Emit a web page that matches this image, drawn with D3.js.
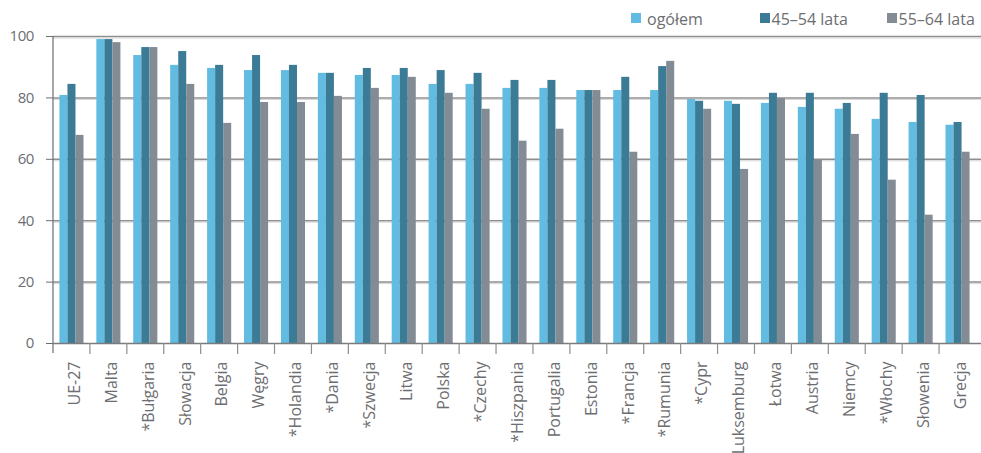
<!DOCTYPE html>
<html>
<head>
<meta charset="utf-8">
<script src="https://cdn.jsdelivr.net/npm/d3@7"></script>
<style>
  html, body { margin: 0; padding: 0; background: #fff; }
  svg { display: block; }
  text { font-family: "Open Sans", "Noto Sans", sans-serif; fill: #6d6e71; }
</style>
</head>
<body>
<svg id="chart" width="981" height="453"></svg>
<script>
// Countries, in the order shown on the axis
const categories = ["UE-27", "Malta", "*Bułgaria", "Słowacja", "Belgia", "Węgry", "*Holandia", "*Dania",
  "*Szwecja", "Litwa", "Polska", "*Czechy", "*Hiszpania", "Portugalia", "Estonia", "*Francja",
  "*Rumunia", "*Cypr", "Luksemburg", "Łotwa", "Austria", "Niemcy", "*Włochy", "Słowenia", "Grecja"];

const seriesNames = ["ogółem", "45–54 lata", "55–64 lata"];

const ogolem = [80.8, 99.0, 93.8, 90.6, 89.6, 88.9, 88.9, 88.0, 87.3, 87.3, 84.4, 84.4, 83.1,
  83.1, 82.4, 82.4, 82.4, 79.5, 78.9, 78.2, 76.9, 76.3, 73.0, 72.0, 71.1];
const lata4554 = [84.4, 99.0, 96.4, 95.1, 90.6, 93.8, 90.6, 88.0, 89.6, 89.6, 88.9, 88.0, 85.7,
  85.7, 82.4, 86.7, 90.2, 78.9, 77.9, 81.5, 81.5, 78.2, 81.5, 80.8, 72.0];
const lata5564 = [67.8, 98.0, 96.4, 84.4, 71.7, 78.5, 78.5, 80.5, 83.1, 86.7, 81.5, 76.3, 65.9,
  69.8, 82.4, 62.3, 91.9, 76.3, 56.7, 79.8, 59.7, 68.1, 53.2, 41.8, 62.3];

const yTicks = [0, 20, 40, 60, 80, 100];

const colors = ["#62bbe0", "#3c7b95", "#838c94"];

const svg = d3.select("#chart");
const plotLeft = 53, plotRight = 976, plotTop = 36, plotBottom = 343;

const x = d3.scaleBand().domain(categories).range([plotLeft, plotRight]).paddingInner(0).paddingOuter(0);
const x1 = d3.scaleBand().domain(seriesNames).range([0, x.bandwidth()]).paddingInner(0).paddingOuter(0.8);
const y = d3.scaleLinear().domain([0, 100]).range([plotBottom, plotTop]);

const values = [ogolem, lata4554, lata5564];
const rows = categories.map((c, i) => ({ cat: c, vals: seriesNames.map((s, k) => ({ s, k, v: values[k][i] })) }));

// horizontal gridlines (two-tone)
const grid = svg.append("g");
yTicks.filter(t => t > 0).forEach(t => {
  grid.append("line").attr("x1", plotLeft).attr("x2", 981).attr("y1", y(t) + 0.5).attr("y2", y(t) + 0.5)
    .attr("stroke", "#8e8e8e").attr("stroke-width", 1.5);
  grid.append("line").attr("x1", plotLeft).attr("x2", 981).attr("y1", y(t) + 2).attr("y2", y(t) + 2)
    .attr("stroke", "#d4d4d4").attr("stroke-width", 1);
});

// bars
const groups = svg.append("g").selectAll("g").data(rows).join("g")
  .attr("transform", d => `translate(${x(d.cat)},0)`);
groups.selectAll("rect").data(d => d.vals).join("rect")
  .attr("x", d => x1(d.s))
  .attr("width", x1.bandwidth())
  .attr("y", d => y(d.v))
  .attr("height", d => y(0) - y(d.v))
  .attr("fill", d => colors[d.k]);

// y axis
const yAxis = d3.axisLeft(y).tickValues(yTicks).tickSize(7).tickPadding(12).tickSizeOuter(0);
const gy = svg.append("g").attr("transform", `translate(${plotLeft},0)`).call(yAxis);
gy.select(".domain").remove();
gy.append("line").attr("x1", 0).attr("x2", 0).attr("y1", plotTop).attr("y2", plotBottom + 10)
  .attr("stroke", "#6d6e71").attr("stroke-width", 1.2);
gy.selectAll(".tick line").attr("stroke", "#6d6e71");
gy.selectAll(".tick text").attr("font-size", "15px").attr("fill", "#6d6e71")
  .attr("letter-spacing", "-0.4px")
  .style("font-family", "'Open Sans', sans-serif");

// x baseline
svg.append("line").attr("x1", plotLeft).attr("x2", 981).attr("y1", y(0) + 0.5).attr("y2", y(0) + 0.5)
  .attr("stroke", "#7a7b7e").attr("stroke-width", 1.5);

// category separators
svg.append("g").selectAll("line").data(categories.slice(1)).join("line")
  .attr("x1", d => x(d)).attr("x2", d => x(d))
  .attr("y1", plotBottom).attr("y2", plotBottom + 11)
  .attr("stroke", "#8e8e8e").attr("stroke-width", 1.2);

// category labels
svg.append("g").selectAll("text").data(categories).join("text")
  .attr("transform", d => `translate(${x(d) + x.bandwidth() / 2 + 2.7},361.5) rotate(-90)`)
  .attr("text-anchor", "end")
  .attr("dy", "0.35em")
  .attr("font-size", "16px")
  .text(d => d);

// legend
const legendX = [631, 760, 887];
const leg = svg.append("g").selectAll("g").data(seriesNames).join("g")
  .attr("transform", (d, i) => `translate(${legendX[i]},13)`);
leg.append("rect").attr("width", 10).attr("height", 10).attr("fill", (d, i) => colors[i]);
leg.append("text").attr("x", (d, i) => i === 0 ? 16 : 11.5).attr("y", 12).attr("font-size", "16px").text(d => d);
</script>
</body>
</html>
